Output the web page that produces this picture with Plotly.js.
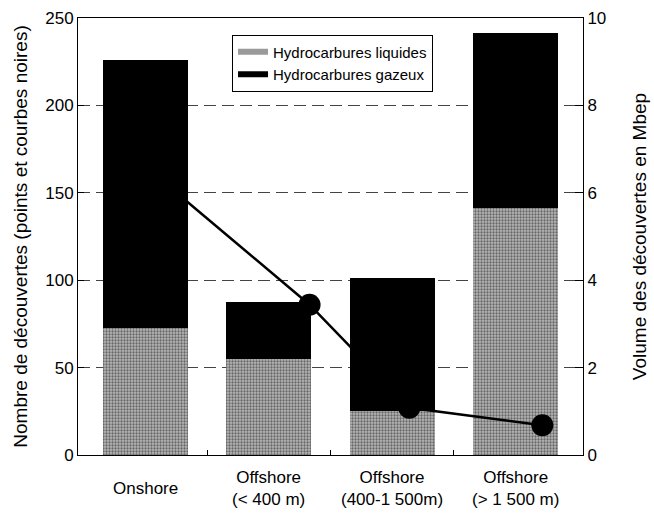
<!DOCTYPE html>
<html>
<head>
<meta charset="utf-8">
<script src="https://cdn.plot.ly/plotly-3.0.1.min.js"></script>
<style>html,body{margin:0;padding:0;background:#fff;}#chart{width:654px;height:516px;}</style>
</head>
<body>
<div id="chart"></div>
<script>
// Categories
const categories = ['Onshore', 'Offshore<br>(&lt; 400 m)', 'Offshore<br>(400-1 500m)', 'Offshore<br>(&gt; 1 500 m)'];
// Volume des découvertes en Mbep (bars, right axis)
const liquides = [2.9, 2.2, 1.0, 5.65];
const gazeux = [6.15, 1.3, 3.05, 4.0];
// Nombre de découvertes (points, left axis)
const nombre = [150, 86, 27, 17];
const pointOffset = [0.25, 0.33, 0.14, 0.22];
// Tick labels
const leftTicks = [0, 50, 100, 150, 200, 250];
const rightTicks = [0, 2, 4, 6, 8, 10];
const seriesNames = ['Hydrocarbures liquides', 'Hydrocarbures gazeux'];

const idx = categories.map((c, i) => i);
const font = 'Liberation Sans, Arial, Helvetica, sans-serif';
const grey = '#a2a2a2';

const traces = [
  { type: 'bar', name: seriesNames[0], x: idx, y: liquides, width: 0.69, showlegend: false,
    marker: { color: grey, line: { width: 0 },
      pattern: { shape: '.', fgcolor: '#666666', bgcolor: '#b8b8b8', size: 3, solidity: 0.45 } },
    xaxis: 'x', yaxis: 'y' },
  { type: 'bar', name: seriesNames[1], x: idx, y: gazeux, width: 0.69, showlegend: false,
    marker: { color: '#000000', line: { width: 0 } }, xaxis: 'x', yaxis: 'y' },
  { type: 'scatter', mode: 'lines+markers', x: idx.map(i => i + pointOffset[i]), y: nombre,
    line: { color: '#000', width: 2.5 }, marker: { color: '#000', size: 22 },
    showlegend: false, xaxis: 'x', yaxis: 'y2' },
  // legend swatches (wide flat bars as in the original legend)
  { type: 'scatter', mode: 'lines', name: seriesNames[0], x: [null], y: [null],
    line: { color: '#9a9a9a', width: 6 }, xaxis: 'x', yaxis: 'y', hoverinfo: 'skip' },
  { type: 'scatter', mode: 'lines', name: seriesNames[1], x: [null], y: [null],
    line: { color: '#000', width: 6 }, xaxis: 'x', yaxis: 'y', hoverinfo: 'skip' }
];

const layout = {
  width: 654, height: 516,
  margin: { l: 78, r: 71, t: 18, b: 61 },
  paper_bgcolor: '#fff', plot_bgcolor: '#fff',
  barmode: 'stack',
  showlegend: true,
  font: { family: font, color: '#000', size: 17 },
  legend: { x: 0.305, y: 0.962, xanchor: 'left', yanchor: 'top', traceorder: 'normal',
    bordercolor: '#000', borderwidth: 1, bgcolor: '#fff', tracegroupgap: 0,
    font: { size: 15, family: font } },
  xaxis: { type: 'linear', range: [-0.55, 3.55], tickvals: [0.5, 1.5, 2.5], ticktext: ['', '', ''],
    ticks: 'inside', ticklen: 5, tickcolor: '#000', showline: true, linecolor: '#000', linewidth: 1,
    mirror: true, showgrid: false, zeroline: false, fixedrange: true },
  yaxis: { side: 'right', range: [0, 10], tickvals: rightTicks, ticktext: rightTicks.map(String),
    ticks: 'inside', ticklen: 8, tickcolor: '#000', showline: true, linecolor: '#000', linewidth: 1,
    showgrid: true, gridcolor: '#444', gridwidth: 1.2, griddash: '12px,6px', zeroline: false,
    tickfont: { size: 17 },
    title: { text: 'Volume des découvertes en Mbep', font: { size: 19 }, standoff: 27 } },
  yaxis2: { overlaying: 'y', side: 'left', range: [0, 250], tickvals: leftTicks, ticktext: leftTicks.map(String),
    ticks: 'inside', ticklen: 6, tickcolor: '#000', showline: true, linecolor: '#000', linewidth: 1,
    showgrid: false, zeroline: false, tickfont: { size: 17 },
    title: { text: 'Nombre de découvertes (points et courbes noires)', font: { size: 19 }, standoff: 12 } },
  annotations: categories.map((c, i) => ({
    x: i, y: 0, xref: 'x', yref: 'paper', text: c, showarrow: false,
    xanchor: 'center', yanchor: 'middle', yshift: -33, font: { size: 17, family: font }
  }))
};

Plotly.newPlot('chart', traces, layout, { displayModeBar: false, staticPlot: true });
</script>
</body>
</html>
